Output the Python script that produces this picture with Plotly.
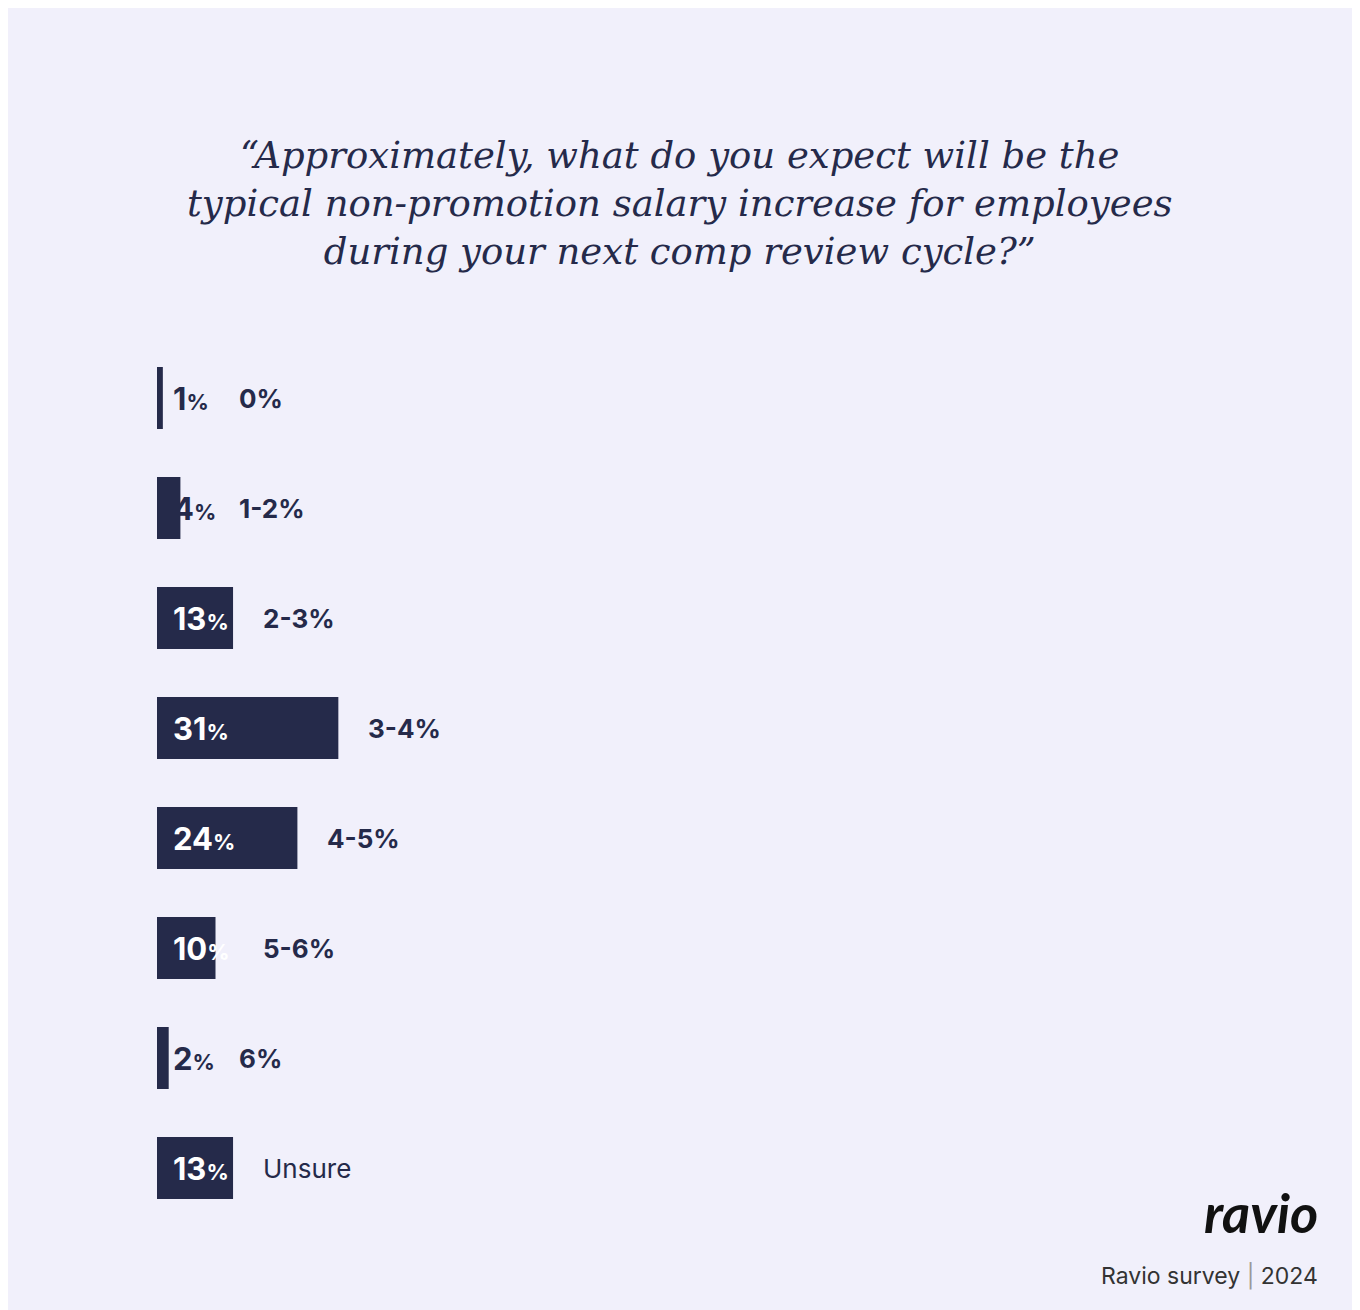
import plotly.graph_objects as go

categories = ["0%", "1-2%", "2-3%", "3-4%", "4-5%", "5-6%", "6%", "Unsure"]
shares = [1, 4, 13, 31, 24, 10, 2, 13]

navy = "#252a4a"
bg = "#f1f0fb"
px_per_pct = 5.85

fig = go.Figure(go.Bar(
    x=shares, y=categories, orientation="h",
    marker=dict(color=navy, line_width=0),
    hoverinfo="skip",
))

for cat, v in zip(categories, shares):
    col = "white" if v >= 10 else navy
    fig.add_annotation(
        x=0, y=cat, xanchor="left", xshift=14, showarrow=False,
        text=f"<b>{v}</b><span style='font-size:22px'><b>%</b></span>",
        font=dict(size=31, color=col, family="Inter"),
    )
    label_w = 52 if v < 10 else 76
    fig.add_annotation(
        x=0, y=cat, xanchor="left", xshift=max(v * px_per_pct, label_w) + 28, showarrow=False,
        text=f"<b>{cat}</b>" if cat != "Unsure" else cat,
        font=dict(size=26, color=navy, family="Inter"),
    )

fig.add_annotation(
    xref="paper", yref="paper", x=0.45, y=1, xanchor="center", yanchor="bottom",
    text="“Approximately, what do you expect will be the<br>typical non-promotion salary increase for employees<br>during your next comp review cycle?”",
    font=dict(size=37, color=navy, family="DejaVu Serif, serif", style="italic"),
    showarrow=False, yshift=68, align="center",
)

fig.add_annotation(
    xref="paper", yref="paper", x=1, y=0, xanchor="right", yanchor="top",
    text="<b><i>ravio</i></b>", showarrow=False, yshift=45,
    font=dict(size=54, color="#111", family="Lato"),
)
fig.add_annotation(
    xref="paper", yref="paper", x=1, y=0, xanchor="right", yanchor="top",
    text="Ravio survey <span style='color:#999'>|</span> 2024", showarrow=False, yshift=-37,
    font=dict(size=23, color="#333", family="Inter"),
)

fig.update_layout(
    width=1360, height=1310,
    margin=dict(l=149, r=48, t=335, b=95),
    paper_bgcolor=bg, plot_bgcolor=bg,
    bargap=0.436, showlegend=False,
    xaxis=dict(range=[0, 1163 / px_per_pct], visible=False),
    yaxis=dict(autorange="reversed", visible=False),
)

fig.write_html("out.html")
